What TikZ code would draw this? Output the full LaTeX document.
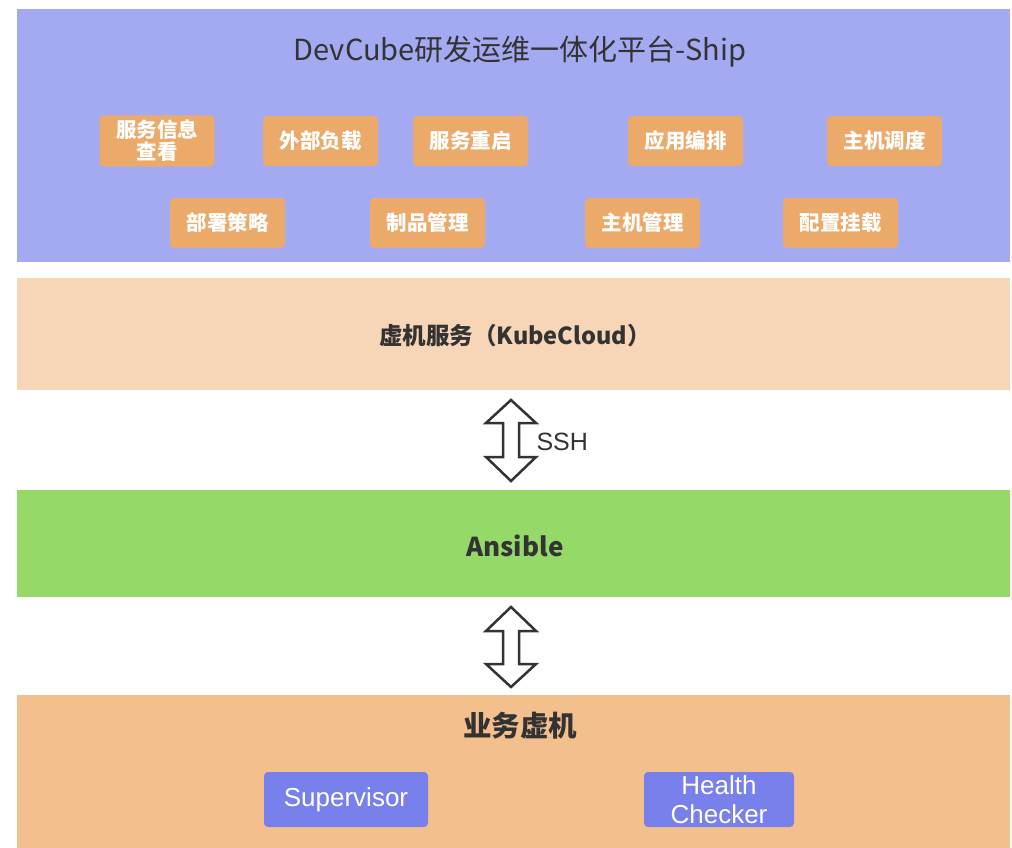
\documentclass[tikz,border=0pt]{standalone}
\usepackage{fontspec}
\setmainfont{Noto Sans CJK SC}
\newfontfamily\latinfont{Liberation Sans}
\definecolor{bandpurple}{HTML}{A3AAF2}
\definecolor{bandpeach}{HTML}{F7D5B7}
\definecolor{bandgreen}{HTML}{95D968}
\definecolor{bandorange}{HTML}{F3C08D}
\definecolor{boxorange}{HTML}{ECAA6A}
\definecolor{boxblue}{HTML}{7880EB}
\definecolor{txt}{HTML}{333333}
\begin{document}
\begin{tikzpicture}[x=1pt,y=-1pt,
  band/.style={fill=#1,draw=none},
  fbox/.style={fill=boxorange,rounded corners=4pt,text=white,font=\fontsize{20.5}{24}\selectfont\bfseries,align=center,inner sep=0pt,minimum width=115pt,minimum height=50pt},
  bbox/.style={fill=boxblue,rounded corners=4pt,text=white,font=\latinfont\fontsize{26}{30}\selectfont,align=center,inner sep=0pt,minimum height=55pt},
  dblarrow/.style={draw=txt,line width=2.5pt,fill=white,line join=miter}
]
\useasboundingbox (0,0) rectangle (1012,848);
\fill[white] (0,0) rectangle (1012,848);
% bands
\fill[band=bandpurple] (17,9) rectangle (1010,262);
\fill[band=bandpeach] (17,278) rectangle (1010,390);
\fill[band=bandgreen] (17,490) rectangle (1010,597);
\fill[band=bandorange] (17,695) rectangle (1010,848);
% titles
\node[text=txt,font=\fontsize{29}{32}\selectfont] (title) at (520,52) {DevCube研发运维一体化平台-Ship};
\node[text=txt,font=\fontsize{23.5}{26}\selectfont\bfseries] (kube) at (515,336) {虚机服务（KubeCloud）};
\node[text=txt,font=\fontsize{26}{30}\selectfont\bfseries] (ansible) at (515,546) {Ansible};
\node[text=txt,font=\fontsize{28.5}{32}\selectfont\bfseries] (vm) at (520,726) {业务虚机};
% top row boxes
\node[fbox,minimum height=51pt] (b1) at (157,141) {服务信息\\[-2pt]查看};
\node[fbox] (b2) at (320.5,141) {外部负载};
\node[fbox] (b3) at (470.5,141) {服务重启};
\node[fbox] (b4) at (685.5,141) {应用编排};
\node[fbox] (b5) at (884.5,141) {主机调度};
% second row
\node[fbox] (c1) at (227.5,223) {部署策略};
\node[fbox] (c2) at (427.5,223) {制品管理};
\node[fbox] (c3) at (642.5,223) {主机管理};
\node[fbox] (c4) at (840.5,223) {配置挂载};
% bottom boxes
\node[bbox,minimum width=164pt] (sup) at (346,799.5) {\raisebox{-3pt}{Supervisor}};
\node[bbox,minimum width=150pt] (hc) at (719,799.5) {Health\\[-1pt]Checker};
% double arrows
\draw[dblarrow] (511,400) -- (536,423) -- (519,423) -- (519,457) -- (536,457) -- (511,481)
  -- (486,457) -- (503,457) -- (503,423) -- (486,423) -- cycle;
\node[text=txt,font=\latinfont\fontsize{25}{28}\selectfont,anchor=west] (ssh) at (533,442) {SSH};
\draw[dblarrow] (511,607) -- (536,631) -- (519,631) -- (519,664) -- (536,664) -- (511,687)
  -- (486,664) -- (503,664) -- (503,631) -- (486,631) -- cycle;
\end{tikzpicture}
\end{document}
